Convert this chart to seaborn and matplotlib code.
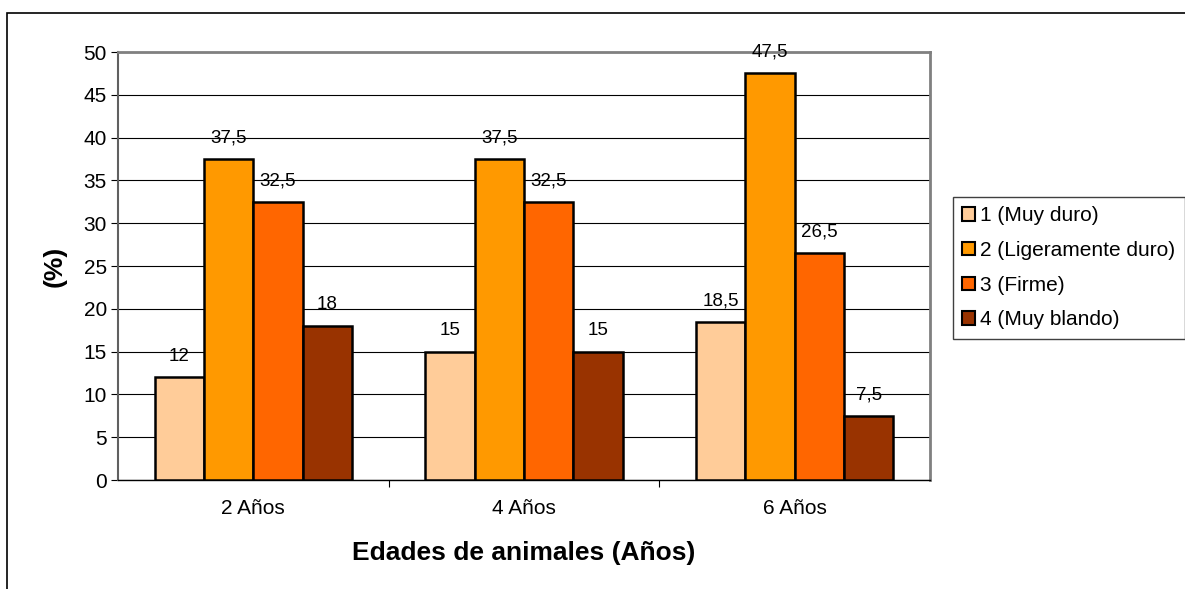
import matplotlib
matplotlib.use("Agg")
import matplotlib.pyplot as plt
import matplotlib.patches as mpatches
import seaborn as sns
import pandas as pd

edades = ["2 Años", "4 Años", "6 Años"]
categorias = ["1 (Muy duro)", "2 (Ligeramente duro)", "3 (Firme)", "4 (Muy blando)"]
muy_duro = [12, 15, 18.5]
ligeramente_duro = [37.5, 37.5, 47.5]
firme = [32.5, 32.5, 26.5]
muy_blando = [18, 15, 7.5]
colores = ["#FFCC99", "#FF9900", "#FF6600", "#993300"]

series = [muy_duro, ligeramente_duro, firme, muy_blando]
df = pd.DataFrame(
    [(e, c, v) for c, vals in zip(categorias, series) for e, v in zip(edades, vals)],
    columns=["edad", "textura", "pct"],
)

sns.set_theme(style="white")
plt.rcParams["font.family"] = ["Liberation Sans", "DejaVu Sans"]
plt.rcParams.update({
    "text.color": "black", "axes.labelcolor": "black",
    "xtick.color": "black", "ytick.color": "black",
})

fig = plt.figure(figsize=(11.85, 5.89), dpi=100)
ax = fig.add_axes([118 / 1185, 1 - 480 / 589, (930 - 118) / 1185, (480 - 52) / 589])

sns.barplot(
    data=df, x="edad", y="pct", hue="textura", hue_order=categorias,
    order=edades, palette=colores, width=0.73, gap=0,
    edgecolor="black", linewidth=1.8, saturation=1, ax=ax, zorder=3,
)

for cont in ax.containers:
    ax.bar_label(
        cont, labels=[f"{v:g}".replace(".", ",") for v in cont.datavalues],
        padding=9, fontsize=13.5, color="black",
    )

ax.set_ylim(0, 50)
ax.set_yticks(range(0, 51, 5))
ax.yaxis.grid(True, color="black", linewidth=0.8, zorder=0)
ax.set_axisbelow(True)
ax.set_xlim(-0.5, 2.5)
ax.tick_params(axis="y", which="major", left=True, length=5, width=0.8, color="black",
               labelsize=15, pad=3)
ax.tick_params(axis="x", which="major", bottom=False, labelsize=15, pad=8)
ax.set_xticks([0.5, 1.5], minor=True)
ax.tick_params(axis="x", which="minor", bottom=True, length=5, width=0.8, color="black")

for s in ["top", "right"]:
    ax.spines[s].set_color("#808080")
    ax.spines[s].set_linewidth(2)
ax.spines["left"].set_color("#606060")
ax.spines["left"].set_linewidth(1.5)
ax.spines["bottom"].set_color("black")
ax.spines["bottom"].set_linewidth(1)

ax.set_xlabel("Edades de animales (Años)", fontsize=19, fontweight="bold", labelpad=16)
ax.set_ylabel("(%)", fontsize=19, fontweight="bold", labelpad=12)

handles = [mpatches.Patch(facecolor=c, edgecolor="black", linewidth=1.5) for c in colores]
ax.legend(
    handles, categorias, loc="upper left", bbox_to_anchor=(953 / 1185, 1 - 197 / 589),
    bbox_transform=fig.transFigure, frameon=True, fancybox=False, framealpha=1,
    edgecolor="#404040", fontsize=15, handlelength=0.6, handleheight=0.6,
    handletextpad=0.25, labelspacing=0.75, borderpad=0.45, borderaxespad=0,
)

fig.patches.append(mpatches.Rectangle(
    (7 / 1185, -0.1), 1.2, 1 - 13 / 589 + 0.1, transform=fig.transFigure,
    fill=False, edgecolor="black", linewidth=1.2, clip_on=False,
))

fig.savefig("out.png", dpi=100)
